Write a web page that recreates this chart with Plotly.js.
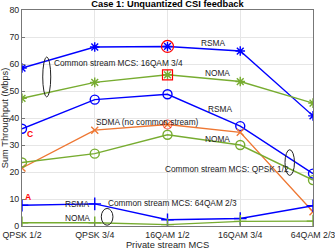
<!DOCTYPE html>
<html><head><meta charset="utf-8">
<script src="https://cdn.plot.ly/plotly-3.0.1.min.js"></script>
<style>html,body{margin:0;padding:0;background:#fff}#c{width:335px;height:250px}</style>
</head><body><div id="c"></div>
<script>
const categories = ["QPSK 1/2","QPSK 3/4","16QAM 1/2","16QAM 3/4","64QAM 2/3"];
const rsma16qam = [58.5, 66.3, 66.5, 64.8, 40.8];
const noma16qam = [47.3, 53.2, 56.0, 53.5, 45.5];
const rsmaQpsk = [36.0, 46.8, 48.8, 37.0, 19.4];
const sdma = [21.5, 35.5, 37.6, 34.7, 5.3];
const nomaQpsk = [23.5, 26.8, 33.8, 30.0, 17.0];
const rsma64qam = [7.7, 8.2, 2.3, 2.8, 7.5];
const noma64qam = [1.2, 1.2, 0.5, 1.7, 1.8];

const BLUE = "#0000ff", GREEN = "#77ac30", ORANGE = "#ee7733", RED = "#ff0000";
function tr(y, color, sym, size) {
  return {x: categories, y: y, type: "scatter", mode: "lines+markers",
    line: {color: color, width: 1.4},
    marker: {symbol: sym, size: size, color: color, line: {color: color, width: 1.4}},
    showlegend: false, hoverinfo: "skip"};
}
const data = [
  tr(rsma16qam, BLUE, "asterisk-open", 8),
  tr(noma16qam, GREEN, "asterisk-open", 8),
  tr(rsmaQpsk, BLUE, "circle-open", 9),
  tr(sdma, ORANGE, "x-thin-open", 7),
  tr(nomaQpsk, GREEN, "circle-open", 9),
  tr(rsma64qam, BLUE, "cross-thin-open", 9),
  tr(noma64qam, GREEN, "cross-thin-open", 9),
  {x: [categories[2]], y: [rsma16qam[2]], type: "scatter", mode: "markers",
   marker: {symbol: "circle-open", size: 12, color: RED, line: {color: RED, width: 1.2}}, showlegend: false, hoverinfo: "skip"},
  {x: [categories[2]], y: [noma16qam[2]], type: "scatter", mode: "markers",
   marker: {symbol: "square-open", size: 10, color: RED, line: {color: RED, width: 1.2}}, showlegend: false, hoverinfo: "skip"},
  {x: [categories[2]], y: [sdma[2]], type: "scatter", mode: "markers",
   marker: {symbol: "circle-open-dot", size: 9, color: RED, opacity: 0.6, line: {color: RED, width: 1}}, showlegend: false, hoverinfo: "skip"}
];
const FAM = "Liberation Sans, Arial, sans-serif";
const F = {family: FAM, size: 8.3, color: "#222"};
function ann(x, y, t, extra) {
  return Object.assign({x: x, y: y, xref: "x", yref: "y", text: t, showarrow: false, font: F}, extra || {});
}
function ell(xc, yc, w, h) {
  return {type: "circle", xref: "x", yref: "y", x0: xc - w/2, x1: xc + w/2, y0: yc - h/2, y1: yc + h/2,
    line: {color: "#222", width: 1}};
}
const layout = {
  width: 335, height: 250,
  margin: {l: 22, r: 22, t: 10, b: 24},
  paper_bgcolor: "#fff", plot_bgcolor: "#fff",
  font: {family: FAM, size: 9, color: "#262626"},
  title: {text: "<b>Case 1: Unquantized CSI feedback</b>", x: 0.5, xanchor: "center", y: 0.998, yanchor: "top",
    font: {size: 9.3, color: "#000", family: FAM}},
  xaxis: {type: "category", range: [0, 4], showgrid: true, gridcolor: "#e6e6e6", gridwidth: 1,
    showline: true, linecolor: "#777", mirror: true, ticks: "inside", ticklen: 3, tickcolor: "#777",
    tickfont: {size: 8.8, color: "#262626"}, zeroline: false,
    title: {text: "Private stream MCS", font: {size: 9.3, color: "#262626"}, standoff: 3}},
  yaxis: {range: [0, 80], dtick: 10, showgrid: true, gridcolor: "#e6e6e6", gridwidth: 1,
    showline: true, linecolor: "#777", mirror: true, ticks: "inside", ticklen: 3, tickcolor: "#777",
    tickfont: {size: 8.8, color: "#262626"}, zeroline: false,
    title: {text: "Sum Throughput (Mbps)", font: {size: 9.3, color: "#262626"}, standoff: 1}},
  annotations: [
    ann(2.63, 67.6, "RSMA"),
    ann(2.69, 56.8, "NOMA"),
    ann(1.32, 60.2, "Common stream MCS: 16QAM 3/4"),
    ann(2.72, 43.3, "RSMA"),
    ann(1.73, 38.6, "SDMA (no common stream)"),
    ann(2.69, 32.3, "NOMA"),
    ann(2.82, 21.0, "Common stream MCS: QPSK 1/2"),
    ann(0.76, 8.0, "RSMA"),
    ann(0.76, 2.9, "NOMA"),
    ann(2.07, 8.6, "Common stream MCS: 64QAM 2/3"),
    ann(0.08, 10.6, "<b>A</b>", {font: {family: FAM, size: 8.5, color: RED}}),
    ann(0.11, 34.2, "<b>C</b>", {font: {family: FAM, size: 8.5, color: RED}})
  ],
  shapes: [
    ell(0.34, 55.2, 0.11, 14.8),
    ell(3.68, 23.5, 0.13, 9.5),
    ell(1.17, 3.4, 0.16, 6.2)
  ]
};
Plotly.newPlot("c", data, layout, {staticPlot: true, displayModeBar: false});
</script></body></html>
